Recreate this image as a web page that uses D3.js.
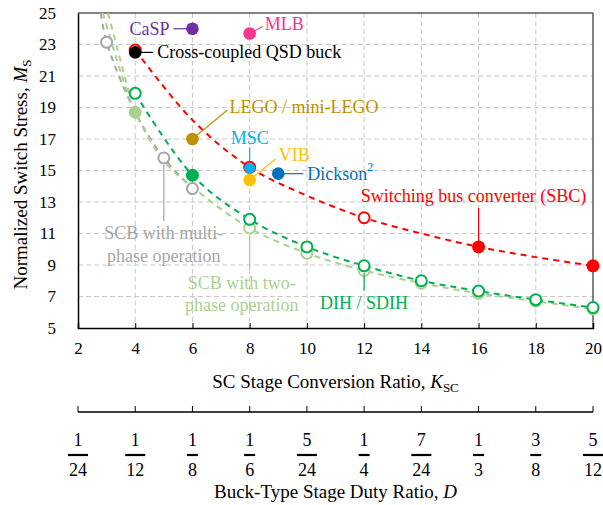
<!DOCTYPE html>
<html><head><meta charset="utf-8">
<script src="https://cdn.jsdelivr.net/npm/d3@7"></script>
<style>body{margin:0;background:#fff}svg{display:block}svg text{font-family:"Liberation Serif","Times New Roman",Tinos,"DejaVu Serif","Noto Serif",serif !important}</style>
</head><body><svg id="c" width="603" height="505"></svg>
<script>
// ---------- data ----------
const kTicks = [2,4,6,8,10,12,14,16,18,20];
const mTicks = [5,7,9,11,13,15,17,19,21,23,25];
const dNum = ["1","1","1","1","5","1","7","1","3","5"];
const dDen = ["24","12","8","6","24","4","24","3","8","12"];

// Switching bus converter (SBC)
const sbcCurveK = [4,6,8,10,12,14,16,18,20];
const sbcCurveM = [22.65,18.2,15.2,13.4,12.0,11.0,10.15,9.5,8.95];
const sbcPtK = [4,8,12,16,20];
const sbcPtM = [22.65,15.2,12.0,10.15,8.95];
const sbcPtFilled = [false,false,false,true,true];

// DIH / SDIH
const dihK = [4,6,8,10,12,14,16,18,20];
const dihM = [19.9,14.7,11.9,10.15,8.95,8.0,7.35,6.8,6.3];
const dihFilled = [false,true,false,false,false,false,false,false,false];

// SCB with two-phase operation
const scb2CurveK = [2.87,3.5,4,5,6,8,10,12,14,16,18,20];
const scb2CurveM = [25,21.2,18.7,15.6,13.95,11.35,9.75,8.65,7.85,7.2,6.7,6.2];
const scb2ExtraK = [3.05,3.8];
const scb2ExtraM = [25,19.8];
const scb2PtK = [4,8,10,12,14,16,18,20];
const scb2PtM = [18.7,11.35,9.75,8.65,7.85,7.2,6.7,6.2];
const scb2PtFilled = [true,false,false,false,false,false,false,false];

// SCB with multi-phase operation
const scbmCurveK = [2.8,3,4,5,6];
const scbmCurveM = [25,23.15,18.7,15.8,13.85];
const scbmPtK = [3,5,6];
const scbmPtM = [23.15,15.8,13.85];

// single-point topologies
const ptNames = ["CaSP","MLB","Cross-coupled QSD buck","LEGO / mini-LEGO","MSC","VIB","Dickson"];
const ptK = [6,8,4,6,8,8,9];
const ptM = [24,23.7,22.5,17,15.15,14.4,14.8];

// ---------- layout ----------
const C = {red:"#FF0000", green:"#00B050", lgreen:"#A9D18E", grey:"#A6A6A6",
  casp:"#7030A0", mlb:"#F5358F", black:"#000000", lego:"#BF9000", msc:"#00B0F0", vib:"#FFC000", dick:"#0070C0"};
const ptColors = [C.casp,C.mlb,C.black,C.lego,C.msc,C.vib,C.dick];
const L = 78, R = 593, T = 13, B = 328;
const svg = d3.select("#c");
const x = d3.scaleLinear().domain([2,20]).range([L,R]);
const y = d3.scaleLinear().domain([5,25]).range([B,T]);
const FS_TICK = 17, FS_ANN = 18, FS_TITLE = 19;

// clip
svg.append("defs").append("clipPath").attr("id","clip").append("rect")
  .attr("x",L).attr("y",T).attr("width",R-L).attr("height",B-T);

// grid
const grid = svg.append("g");
grid.selectAll("line.v").data(kTicks.slice(1,-1)).join("line")
  .attr("x1",d=>x(d)).attr("x2",d=>x(d)).attr("y1",T).attr("y2",B)
  .attr("stroke","#C8C8C8").attr("stroke-width",1).attr("stroke-dasharray","5,3");
grid.selectAll("line.h").data(mTicks.slice(1,-1)).join("line")
  .attr("y1",d=>y(d)).attr("y2",d=>y(d)).attr("x1",L).attr("x2",R)
  .attr("stroke","#C8C8C8").attr("stroke-width",1).attr("stroke-dasharray","5,3");

// frame
svg.append("line").attr("x1",L).attr("x2",R).attr("y1",T).attr("y2",T).attr("stroke","#595959").attr("stroke-width",1.5);
svg.append("line").attr("x1",R).attr("x2",R).attr("y1",T).attr("y2",B).attr("stroke","#595959").attr("stroke-width",1.5);

// axes
const xAxis = d3.axisBottom(x).tickValues(kTicks).tickSize(-5).tickPadding(14).tickFormat(d3.format("d"));
const gx = svg.append("g").attr("transform",`translate(0,${B})`).call(xAxis);
gx.select(".domain").attr("stroke","#000").attr("stroke-width",1.5);
gx.selectAll(".tick line").attr("stroke","#000");
gx.selectAll("text").attr("font-size",FS_TICK).attr("fill","#000");

const yAxis = d3.axisLeft(y).tickValues(mTicks).tickSize(0).tickPadding(22).tickFormat(d3.format("d"));
const gy = svg.append("g").attr("transform",`translate(${L},0)`).call(yAxis);
gy.select(".domain").attr("stroke","#000").attr("stroke-width",1.5);
gy.selectAll("text").attr("font-size",FS_TICK).attr("fill","#000");

// axis titles
const xt = svg.append("text").attr("x",(L+R)/2).attr("y",388).attr("text-anchor","middle").attr("font-size",FS_TITLE);
xt.append("tspan").text("SC Stage Conversion Ratio, ");
xt.append("tspan").attr("font-style","italic").text("K");
xt.append("tspan").attr("font-size",13).attr("dy",4).text("SC");

const yt = svg.append("text").attr("transform",`translate(27,${(T+B)/2+4}) rotate(-90)`).attr("text-anchor","middle").attr("font-size",FS_TITLE);
yt.append("tspan").text("Normalized Switch Stress, ");
yt.append("tspan").attr("font-style","italic").text("M");
yt.append("tspan").attr("font-size",13).attr("dy",4).text("S");

// secondary axis (duty ratio)
const AY = 412;
const x2 = svg.append("g").attr("transform",`translate(0,${AY})`);
x2.append("line").attr("x1",x(2)).attr("x2",x(20)).attr("stroke","#000").attr("stroke-width",1.5);
x2.selectAll("line.t").data(kTicks).join("line").attr("class","t")
  .attr("x1",d=>x(d)).attr("x2",d=>x(d)).attr("y1",0).attr("y2",-6).attr("stroke","#000");
const fr = x2.selectAll("g.f").data(kTicks).join("g").attr("class","f")
  .attr("transform",d=>`translate(${x(d)},0)`);
fr.append("text").attr("y",34).attr("text-anchor","middle").attr("font-size",FS_TICK+1).text((d,i)=>dNum[i]);
fr.append("text").attr("y",64).attr("text-anchor","middle").attr("font-size",FS_TICK+1).text((d,i)=>dDen[i]);
fr.each(function(d,i){
  const g = d3.select(this);
  const w = g.selectAll("text").nodes()[1].getComputedTextLength();
  g.append("line").attr("x1",-w/2-1).attr("x2",w/2+1).attr("y1",43).attr("y2",43).attr("stroke","#000").attr("stroke-width",2.2);
});
const bt = svg.append("text").attr("x",(L+R)/2).attr("y",498).attr("text-anchor","middle").attr("font-size",FS_TITLE);
bt.append("tspan").text("Buck-Type Stage Duty Ratio, ");
bt.append("tspan").attr("font-style","italic").text("D");

// curves
const plot = svg.append("g").attr("clip-path","url(#clip)");
const line = d3.line().x(d=>x(d[0])).y(d=>y(d[1])).curve(d3.curveCatmullRom.alpha(0.5));
function curve(ks, ms, color){
  plot.append("path").datum(ks.map((k,i)=>[k,ms[i]])).attr("d",line)
    .attr("fill","none").attr("stroke",color).attr("stroke-width",2).attr("stroke-dasharray","6,5");
}
curve(scbmCurveK, scbmCurveM, C.grey);
curve(scb2CurveK, scb2CurveM, C.lgreen);
curve(scb2ExtraK, scb2ExtraM, C.lgreen);
curve(dihK, dihM, C.green);
curve(sbcCurveK, sbcCurveM, C.red);

// markers
const mk = svg.append("g");
function markers(ks, ms, filled, color, r){
  ks.forEach((k,i)=>{
    const f = filled[i];
    mk.append("circle").attr("cx",x(k)).attr("cy",y(ms[i])).attr("r",f? r : r-1)
      .attr("fill",f? color : "#fff").attr("stroke",color).attr("stroke-width",f?0:2);
  });
}
markers(scbmPtK, scbmPtM, scbmPtK.map(()=>false), C.grey, 6.5);
markers(scb2PtK, scb2PtM, scb2PtFilled, C.lgreen, 6.5);
markers(dihK, dihM, dihFilled, C.green, 6.5);
markers(sbcPtK, sbcPtM, sbcPtFilled, C.red, 6.5);
ptK.forEach((k,i)=>{
  mk.append("circle").attr("cx",x(k)).attr("cy",y(ptM[i])).attr("r", i===4 ? 5.5 : 6.3).attr("fill",ptColors[i]);
});

// annotations (pixel offsets from the annotated point)
const ann = svg.append("g").attr("font-size",FS_ANN);
function leader(x1,y1,x2,y2,color){
  ann.append("line").attr("x1",x1).attr("y1",y1).attr("x2",x2).attr("y2",y2).attr("stroke",color).attr("stroke-width",1.2);
}
function label(tx,ty,anchor,color,txt){
  return ann.append("text").attr("x",tx).attr("y",ty).attr("text-anchor",anchor).attr("fill",color).attr("dominant-baseline","central").text(txt);
}
let px, py;
// CaSP
px=x(ptK[0]); py=y(ptM[0]);
leader(px-19,py,px,py,C.casp); label(px-23,py,"end",C.casp,ptNames[0]);
// MLB
px=x(ptK[1]); py=y(ptM[1]);
leader(px,py,px+13,py-7,C.mlb); label(px+15,py-9,"start",C.mlb,ptNames[1]);
// Cross-coupled
px=x(ptK[2]); py=y(ptM[2]);
leader(px,py,px+18,py,C.black); label(px+22,py,"start",C.black,ptNames[2]);
// LEGO
px=x(ptK[3]); py=y(ptM[3]);
leader(px,py,px+35,py-29,C.lego); label(px+37,py-32,"start",C.lego,ptNames[3]);
// MSC
px=x(ptK[4]); py=y(ptM[4]);
leader(px,py-7,px,py-21,C.msc); label(px,py-30,"middle",C.msc,ptNames[4]);
// VIB
px=x(ptK[5]); py=y(ptM[5]);
leader(px,py,px+26,py-21,C.vib); label(px+29,py-25,"start",C.vib,ptNames[5]);
// Dickson^2
px=x(ptK[6]); py=y(ptM[6]);
leader(px,py,px+25,py,C.dick);
const dk = label(px+29,py,"start",C.dick,ptNames[6]);
dk.append("tspan").attr("font-size",12).attr("dy",-7).text("2");
// SBC
px=x(sbcPtK[3]); py=y(sbcPtM[3]);
leader(px,py,px,py-39,C.red); label(px-5,py-51,"middle",C.red,"Switching bus converter (SBC)");
// SCB multi
px=x(scbmPtK[1]); py=y(scbmPtM[1]);
leader(px,py+7,px,py+63,C.grey);
label(px,py+75,"middle",C.grey,"SCB with multi-");
label(px,py+98,"middle",C.grey,"phase operation");
// SCB two
px=x(scb2PtK[1]); py=y(scb2PtM[1]);
leader(px,py+7,px,py+42,C.lgreen);
label(px-8,py+55,"middle",C.lgreen,"SCB with two-");
label(px-8,py+77,"middle",C.lgreen,"phase operation");
// DIH
px=x(dihK[4]); py=y(dihM[4]);
leader(px,py+7,px,py+25,C.green);
label(px,py+37,"middle",C.green,"DIH / SDIH");
</script></body></html>
